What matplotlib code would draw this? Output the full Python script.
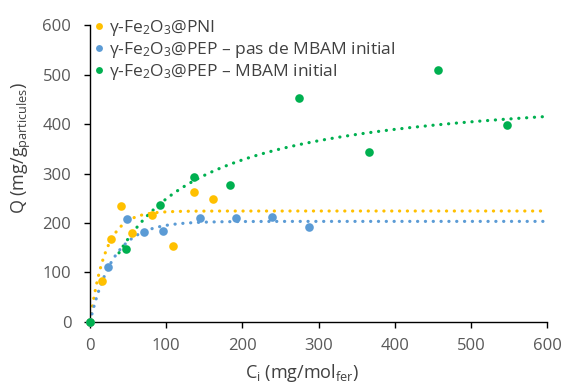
import numpy as np
import matplotlib
matplotlib.use("Agg")
import matplotlib.pyplot as plt

# Data
pni_x = [0, 15, 28, 40, 55, 81, 109, 136, 162]
pni_y = [0, 83, 167, 235, 179, 215, 154, 263, 248]

pep_x = [0, 24, 48, 71, 96, 144, 192, 239, 287]
pep_y = [0, 111, 207, 182, 184, 210, 210, 212, 192]

mbam_x = [0, 47, 92, 137, 184, 274, 366, 457, 547]
mbam_y = [0, 148, 236, 292, 276, 454, 344, 510, 398]

# Fit-model parameters
pni_qmax, pni_tau = 224, 20.5          # q = qmax*(1-exp(-C/tau))
pep_qmax, pep_tau = 203, 31            # q = qmax*(1-exp(-C/tau))
mbam_qmax, mbam_a = 480, 93            # Langmuir q = qmax*C/(a+C)
curve_start = [0, 0, 38]

labels = [r"γ-Fe$_2$O$_3$@PNI",
          r"γ-Fe$_2$O$_3$@PEP – pas de MBAM initial",
          r"γ-Fe$_2$O$_3$@PEP – MBAM initial"]
colors = ["#FFC000", "#5B9BD5", "#00B050"]

xticks = [0, 100, 200, 300, 400, 500, 600]
yticks = [0, 100, 200, 300, 400, 500, 600]

plt.rcParams['font.family'] = ['Open Sans', 'DejaVu Sans']
plt.rcParams['mathtext.fontset'] = 'custom'
plt.rcParams['mathtext.rm'] = 'Open Sans'
plt.rcParams['mathtext.it'] = 'Open Sans'

fig = plt.figure(figsize=(5.63, 3.86), dpi=100)
ax = fig.add_axes([0.16, 0.167, 0.8116, 0.767])

models = [lambda c: pni_qmax * (1 - np.exp(-c / pni_tau)),
          lambda c: pep_qmax * (1 - np.exp(-c / pep_tau)),
          lambda c: mbam_qmax * c / (mbam_a + c)]

dot = (0, (0.05, 2.4))
for f, col, c0 in zip(models, colors, curve_start):
    C = np.linspace(c0, 600, 600)
    ax.plot(C, f(C), color=col, lw=2.3, linestyle=dot, dash_capstyle='round', zorder=2)

handles = []
for xs, ys, col, lab in zip([pni_x, pep_x, mbam_x], [pni_y, pep_y, mbam_y], colors, labels):
    h, = ax.plot(xs, ys, 'o', color=col, ms=6.2, mec='none', label=lab, clip_on=False, zorder=3)
    handles.append(h)

ax.set_xlim(0, 600)
ax.set_ylim(0, 600)
ax.set_xticks(xticks)
ax.set_yticks(yticks)
for s in ['top', 'right']:
    ax.spines[s].set_visible(False)
for s in ['left', 'bottom']:
    ax.spines[s].set_color('black')
    ax.spines[s].set_linewidth(1.0)
ax.tick_params(axis='both', direction='out', length=4.5, width=1.0, colors='black',
               labelcolor='#595959', labelsize=12)
ax.tick_params(axis='y', pad=9)
ax.tick_params(axis='x', pad=7)

ax.set_xlabel(r"C$_{\rm i}$ (mg/mol$_{\rm fer}$)", fontsize=13, color='#404040')
ax.xaxis.set_label_coords(0.464, -0.137)
ax.set_ylabel(r"Q (mg/g$_{\rm particules}$)", fontsize=13, color='#404040')
ax.yaxis.set_label_coords(-0.125, 0.586)

leg = ax.legend(handles=handles, loc='upper left', bbox_to_anchor=(-0.005, 1.05),
                frameon=False, fontsize=12.5, handlelength=0.5, handletextpad=0.35,
                labelspacing=0.14, borderaxespad=0.0, markerscale=0.8)
for t in leg.get_texts():
    t.set_color('#404040')

fig.savefig("out.png", dpi=100)
